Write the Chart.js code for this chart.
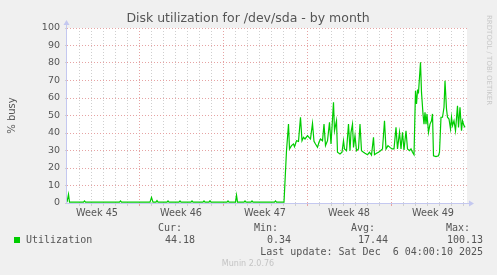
<!DOCTYPE html>
<html>
<head>
<meta charset="utf-8">
<script src="https://cdn.jsdelivr.net/npm/chart.js@4.4.1/dist/chart.umd.min.js"></script>
<style>
html, body { margin: 0; padding: 0; background: #f0f0f0; }
</style>
</head>
<body>
<canvas id="diskChart" width="497" height="275"></canvas>
<script>
// Disk utilization for /dev/sda, one month (graph spans 800 hours)

// hours since the left edge of the graph
const hours = [
    0, 3, 5, 33, 35, 37, 105, 107, 109, 166, 169, 172, 178, 180, 182,
    200, 202, 204, 224, 226, 228, 248, 250, 252, 272, 274, 276, 284, 286, 288,
    320, 322, 324, 337, 339, 341, 354, 356, 358, 368, 370, 372, 415, 417, 419, 434,
    439, 443, 445, 449, 453, 455, 459, 463, 467, 470, 473, 476, 481, 484, 487,
    491, 494, 497, 501, 504, 507, 511, 514, 517, 521, 525, 528, 533, 535, 539,
    541, 546, 550, 553, 555, 559, 563, 566, 568, 571, 573, 576, 579, 583, 586,
    589, 593, 596, 601, 605, 609, 613, 615, 619, 623, 627, 631, 635, 638, 642,
    646, 650, 654, 658, 661, 665, 668, 671, 674, 678, 681, 685, 688, 691, 694,
    697, 699, 701, 703, 707, 709, 712, 714, 716, 718, 720, 723, 726, 729, 731,
    733, 738, 743, 745, 748, 751, 754, 756, 759, 761, 764, 767, 769, 771, 774,
    777, 781, 783, 786, 789, 791, 794, 796
];

// % busy
const busy = [
    0.5, 5.0, 0.5, 0.5, 1.2, 0.5, 0.5, 1.2, 0.5, 0.5, 3.2, 0.5, 0.5, 1.4, 0.5,
    0.5, 1.2, 0.5, 0.5, 1.2, 0.5, 0.5, 1.2, 0.5, 0.5, 1.2, 0.5, 0.5, 1.3, 0.5,
    0.5, 1.2, 0.5, 0.5, 4.5, 0.5, 0.5, 1.2, 0.5, 0.5, 1.2, 0.5, 0.5, 1.2, 0.5, 0.5,
    29.9, 45.1, 30.9, 32.8, 33.7, 32.2, 35.6, 35.2, 49.0, 35.6, 37.5, 36.6, 38.5, 37.5, 36.6,
    45.5, 35.2, 33.7, 31.8, 34.7, 36.6, 35.6, 45.1, 32.8, 35.6, 46.1, 33.7, 57.5, 41.3, 47.0,
    29.0, 28.0, 29.0, 35.6, 30.9, 29.9, 45.1, 29.9, 40.4, 45.1, 31.8, 38.5, 29.9, 30.9, 45.1,
    29.9, 29.0, 28.4, 27.6, 29.0, 27.4, 37.5, 27.6, 28.4, 29.0, 29.9, 30.9, 47.0, 30.9, 32.8,
    31.8, 30.9, 30.9, 43.2, 30.9, 40.4, 30.9, 40.4, 30.3, 41.3, 30.9, 29.9, 30.9, 29.0, 27.6,
    64.2, 56.6, 64.2, 63.2, 80.4, 63.2, 50.9, 45.1, 51.8, 45.1, 50.9, 40.4, 45.1, 47.0, 50.9,
    27.0, 26.5, 27.0, 29.0, 49.0, 49.0, 54.7, 69.9, 53.7, 49.0, 48.0, 42.3, 49.0, 44.2, 47.0,
    41.3, 55.6, 43.2, 54.7, 41.3, 47.0, 44.2, 43.2
];

const weekLabels = ['Week 45', 'Week 46', 'Week 47', 'Week 48', 'Week 49'];
const weekLabelHours = [60, 228, 396, 564, 732];
const weekStartHours = [144, 312, 480, 648];

const statNames = ['Cur:', 'Min:', 'Avg:', 'Max:'];
const statValues = ['44.18', '0.34', '17.44', '100.13'];

const minorGrid = '#cfcfcf';
const majorGrid = '#e6a3a3';
const axisColor = '#c4c8f0';
const textColor = '#555555';

// title, axes arrows, week labels and the legend block under the graph
const muninDecor = {
    id: 'muninDecor',
    beforeDraw(chart) {
        const ctx = chart.ctx;
        const a = chart.chartArea;
        ctx.save();
        ctx.fillStyle = '#f0f0f0';
        ctx.fillRect(0, 0, chart.width, chart.height);
        ctx.fillStyle = '#ffffff';
        ctx.fillRect(a.left, a.top, a.right - a.left, a.bottom - a.top);
        ctx.restore();
    },
    afterDraw(chart) {
        const ctx = chart.ctx;
        const a = chart.chartArea;
        const xScale = chart.scales.x;
        ctx.save();

        // axes with arrows
        ctx.strokeStyle = axisColor;
        ctx.fillStyle = axisColor;
        ctx.lineWidth = 1;
        ctx.beginPath();
        ctx.moveTo(a.left - 0.5, a.bottom + 0.5);
        ctx.lineTo(a.right + 3, a.bottom + 0.5);
        ctx.moveTo(a.left - 0.5, a.bottom + 0.5);
        ctx.lineTo(a.left - 0.5, a.top - 4);
        ctx.stroke();
        ctx.beginPath();
        ctx.moveTo(a.right + 7, a.bottom + 0.5);
        ctx.lineTo(a.right + 2, a.bottom - 2.5);
        ctx.lineTo(a.right + 2, a.bottom + 3.5);
        ctx.closePath();
        ctx.fill();
        ctx.beginPath();
        ctx.moveTo(a.left - 0.5, a.top - 8);
        ctx.lineTo(a.left - 3.5, a.top - 3);
        ctx.lineTo(a.left + 2.5, a.top - 3);
        ctx.closePath();
        ctx.fill();

        // title
        ctx.fillStyle = textColor;
        ctx.font = '12.5px "DejaVu Sans"';
        ctx.textAlign = 'center';
        ctx.textBaseline = 'middle';
        ctx.fillText('Disk utilization for /dev/sda - by month', 248, 19);

        // week labels
        ctx.font = '9.7px "DejaVu Sans"';
        weekLabels.forEach((lbl, i) => {
            ctx.fillText(lbl, xScale.getPixelForValue(weekLabelHours[i]), a.bottom + 10);
        });

        // y axis title
        ctx.save();
        ctx.translate(12, (a.top + a.bottom) / 2);
        ctx.rotate(-Math.PI / 2);
        ctx.font = '10px "DejaVu Sans"';
        ctx.fillText('% busy', 0, 0);
        ctx.restore();

        // watermark
        ctx.save();
        ctx.translate(489, 15);
        ctx.rotate(Math.PI / 2);
        ctx.font = '7px "DejaVu Sans"';
        ctx.fillStyle = '#c8c8c8';
        ctx.textAlign = 'left';
        ctx.fillText('RRDTOOL / TOBI OETIKER', 0, 0);
        ctx.restore();

        // legend
        ctx.font = '10px "DejaVu Sans Mono"';
        ctx.textAlign = 'left';
        ctx.fillStyle = '#00cc00';
        ctx.fillRect(14, 237, 6, 6);
        ctx.fillStyle = textColor;
        ctx.fillText('Utilization', 26, 240);
        const headX = [158, 254, 351, 446];
        const valRight = [195, 291, 388, 483];
        statNames.forEach((s, i) => {
            ctx.textAlign = 'left';
            ctx.fillText(s, headX[i], 228);
            ctx.textAlign = 'right';
            ctx.fillText(statValues[i], valRight[i], 240);
        });
        ctx.fillText('Last update: Sat Dec  6 04:00:10 2025', 483, 252);

        ctx.textAlign = 'center';
        ctx.font = '8px "DejaVu Sans"';
        ctx.fillStyle = '#c4c4c4';
        ctx.fillText('Munin 2.0.76', 248, 264);
        ctx.restore();
    }
};

const points = hours.map((h, i) => ({ x: h, y: busy[i] }));

new Chart(document.getElementById('diskChart'), {
    type: 'line',
    data: {
        datasets: [{
            label: 'Utilization',
            data: points,
            borderColor: '#00cc00',
            borderWidth: 1.2,
            pointRadius: 0,
            tension: 0,
            fill: false
        }]
    },
    options: {
        responsive: false,
        animation: false,
        events: [],
        layout: { padding: { left: 0, top: 28, right: 30, bottom: 0 } },
        plugins: {
            legend: { display: false },
            tooltip: { enabled: false }
        },
        scales: {
            x: {
                type: 'linear',
                min: 0,
                max: 800,
                afterFit: (scale) => { scale.height = 72; },
                afterBuildTicks: (scale) => {
                    const t = [];
                    for (let h = 24; h < 800; h += 24) t.push({ value: h });
                    scale.ticks = t;
                },
                ticks: { callback: () => '', padding: 0 },
                grid: {
                    color: (c) => weekStartHours.includes(c.tick.value) ? majorGrid : minorGrid,
                    tickColor: (c) => weekStartHours.includes(c.tick.value) ? majorGrid : minorGrid,
                    tickLength: 3,
                    lineWidth: 1
                },
                border: { display: false, dash: [1, 2] }
            },
            y: {
                min: 0,
                max: 100,
                afterFit: (scale) => { scale.width = 67; },
                ticks: {
                    stepSize: 5,
                    color: textColor,
                    font: { family: 'DejaVu Sans', size: 9.5 },
                    padding: 5,
                    callback: (v) => v % 10 === 0 ? String(v) : ''
                },
                grid: {
                    color: (c) => c.tick.value % 10 === 0 ? majorGrid : minorGrid,
                    tickColor: minorGrid,
                    tickLength: 2,
                    lineWidth: 1
                },
                border: { display: false, dash: [1, 2] }
            }
        }
    },
    plugins: [muninDecor]
});
</script>
</body>
</html>
